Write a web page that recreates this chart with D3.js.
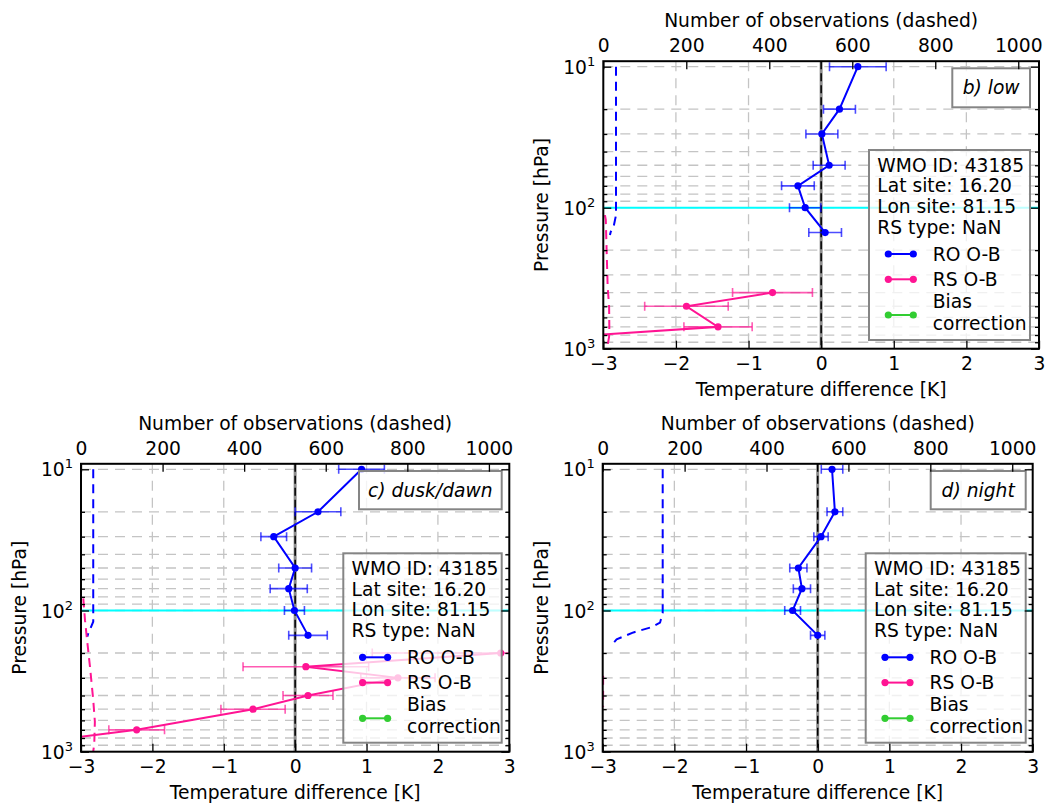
<!DOCTYPE html>
<html><head><meta charset="utf-8">
<script src="https://cdn.jsdelivr.net/npm/d3@7"></script>
<style>body{margin:0;background:#fff}svg{display:block;font-family:"DejaVu Sans",sans-serif}</style>
</head><body><svg id="chart" width="1048" height="806"></svg>
<script>
// ---------------- data ----------------
const roLevels = [10, 20, 30, 50, 70, 100, 150];
const roLow = [0.505, 0.252, 0.01, 0.11, -0.32, -0.22, 0.055];
const roLowErr = [0.39, 0.22, 0.22, 0.22, 0.225, 0.216, 0.225];
const roDusk = [0.93, 0.32, -0.30, 0.0, -0.09, -0.01, 0.18];
const roDuskErr = [0.32, 0.32, 0.18, 0.23, 0.26, 0.14, 0.27];
const roNight = [0.20, 0.24, 0.046, -0.27, -0.22, -0.35, 0.0];
const roNightErr = [0.15, 0.11, 0.10, 0.12, 0.12, 0.11, 0.10];

const rsLowLevels = [400, 500, 700, 850];
const rsLow = [-0.67, -1.855, -1.42, -3.85];
const rsLowErr = [0.55, 0.575, 0.47, 0.5];
const rsDuskLevels = [200, 250, 300, 400, 500, 700, 850];
const rsDusk = [2.88, 0.15, 1.44, 0.18, -0.59, -2.22, -3.58];
const rsDuskErr = [1.8, 0.88, 0.52, 0.35, 0.45, 0.39, 0.4];
const rsNightLevels = [];
const rsNight = [];
const rsNightErr = [];

// number of observations (dashed profiles)
const roCountLowP = [10, 113, 140, 148, 156];
const roCountLow = [30.6, 30.6, 24, 18, 16];
const rsCountLowP = [113, 122, 200, 363, 502, 700, 820, 960, 1000];
const rsCountLow = [4, 6, 8, 10.5, 14, 14.5, 14, 10, 8];
const roCountDuskP = [10, 120, 145, 153];
const roCountDusk = [30, 30, 18, 15.4];
const rsCountDuskP = [82, 117, 153, 250, 430, 613, 871, 1000];
const rsCountDusk = [5.6, 9.8, 14, 22, 30, 34, 32.6, 30];
const roCountNightP = [10, 104, 122, 131, 143, 160, 170, 175];
const roCountNight = [146.5, 146.5, 140, 120, 75, 34, 26, 26];
const rsCountNightP = [290, 480];
const rsCountNight = [1, 1];

// axes / ticks / text
const tempTicks = [-3, -2, -1, 0, 1, 2, 3];
const tempGrid = [-2, -1, 1, 2];
const countTicks = [0, 200, 400, 600, 800, 1000];
const pressureMajor = [10, 100, 1000];
const tropopauseLevel = [100];
const stationInfo = ["WMO ID: 43185", "Lat site: 16.20", "Lon site: 81.15", "RS type: NaN"];
const legendLabels = [["RO O-B"], ["RS O-B"], ["Bias", "correction"]];
const panelTitles = ["b) low", "c) dusk/dawn", "d) night"];

// ---------------- styling / layout ----------------
const COL = {ro: "#0000ff", rs: "#ff1493", bias: "#32cd32", cyan: "#00ffff"};
const FS = 18.7;
const svg = d3.select("#chart");

const panels = [
  {title: panelTitles[0], L: 603.3, R: 1039, y10: 66.7, B: 348.7,
   tb: [952.3, 68.3, 1030, 107.3], lb: [869, 150, 1030, 340],
   ro: roLow, roE: roLowErr, rsP: rsLowLevels, rs: rsLow, rsE: rsLowErr,
   roC: [roCountLowP, roCountLow], rsC: [rsCountLowP, rsCountLow]},
  {title: panelTitles[1], L: 81, R: 509.3, y10: 469.3, B: 751.7,
   tb: [359, 471, 501.7, 509.3], lb: [343.3, 553.3, 501.7, 742.7],
   ro: roDusk, roE: roDuskErr, rsP: rsDuskLevels, rs: rsDusk, rsE: rsDuskErr,
   roC: [roCountDuskP, roCountDusk], rsC: [rsCountDuskP, rsCountDusk]},
  {title: panelTitles[2], L: 602.7, R: 1032.7, y10: 469.3, B: 751.7,
   tb: [930.7, 471, 1025.7, 509.3], lb: [865.7, 553.3, 1025.7, 742.7],
   ro: roNight, roE: roNightErr, rsP: rsNightLevels, rs: rsNight, rsE: rsNightErr,
   roC: [roCountNightP, roCountNight], rsC: [rsCountNightP, rsCountNight]}
];

panels.forEach((P, i) => {
  const T = P.y10 - 5.5;
  const x = d3.scaleLinear().domain([-3, 3]).range([P.L, P.R]);
  const xc = d3.scaleLinear().domain([0, 1050]).range([P.L, P.R]);
  const y = d3.scaleLog().domain([10, 1000]).range([P.y10, P.B]);
  const g = svg.append("g");
  const cid = "clip" + i;
  g.append("clipPath").attr("id", cid).append("rect")
    .attr("x", P.L).attr("y", T).attr("width", P.R - P.L).attr("height", P.B - T);
  const pg = g.append("g").attr("clip-path", `url(#${cid})`);

  const logLevels = [];
  [10, 100].forEach(d => { for (let k = 1; k <= 9; k++) logLevels.push(d * k); });
  const minorLevels = logLevels.filter(v => !pressureMajor.includes(v));

  pg.selectAll(".hg").data(logLevels).join("line")
    .attr("x1", P.L).attr("x2", P.R).attr("y1", d => y(d)).attr("y2", d => y(d))
    .attr("stroke", "#c4c4c4").attr("stroke-width", 1.3).attr("stroke-dasharray", "10,7");
  pg.selectAll(".vg").data(tempGrid).join("line")
    .attr("x1", d => x(d)).attr("x2", d => x(d)).attr("y1", T).attr("y2", P.B)
    .attr("stroke", "#c4c4c4").attr("stroke-width", 1.3).attr("stroke-dasharray", "10,7");

  pg.selectAll(".trop").data(tropopauseLevel).join("line")
    .attr("x1", P.L).attr("x2", P.R).attr("y1", d => y(d)).attr("y2", d => y(d))
    .attr("stroke", COL.cyan).attr("stroke-width", 2);
  pg.append("line").attr("x1", x(0)).attr("x2", x(0)).attr("y1", T).attr("y2", P.B)
    .attr("stroke", "#8c8c8c").attr("stroke-width", 3);
  pg.append("line").attr("x1", x(0)).attr("x2", x(0)).attr("y1", T).attr("y2", P.B)
    .attr("stroke", "#000").attr("stroke-width", 1.5).attr("stroke-dasharray", "8,4");

  const cline = d3.line().x(d => xc(d[1])).y(d => y(d[0]));
  [[P.roC, COL.ro], [P.rsC, COL.rs]].forEach(([c, col]) => {
    const pts = c[0].map((p, k) => [p, c[1][k]]);
    pg.append("path").attr("d", cline(pts)).attr("fill", "none")
      .attr("stroke", col).attr("stroke-width", 2).attr("stroke-dasharray", "9,6");
  });

  const series = [
    {p: roLevels, v: P.ro, e: P.roE, col: COL.ro},
    {p: P.rsP, v: P.rs, e: P.rsE, col: COL.rs}
  ];
  series.forEach(s => {
    const pts = s.p.map((p, k) => ({p, v: s.v[k], e: s.e[k]}));
    const eb = pg.append("g").attr("stroke", s.col).attr("stroke-opacity", 0.7).attr("stroke-width", 1.6);
    eb.selectAll(".bar").data(pts).join("line")
      .attr("x1", d => x(d.v - d.e)).attr("x2", d => x(d.v + d.e))
      .attr("y1", d => y(d.p)).attr("y2", d => y(d.p));
    eb.selectAll(".capl").data(pts).join("line")
      .attr("x1", d => x(d.v - d.e)).attr("x2", d => x(d.v - d.e))
      .attr("y1", d => y(d.p) - 4.5).attr("y2", d => y(d.p) + 4.5);
    eb.selectAll(".capr").data(pts).join("line")
      .attr("x1", d => x(d.v + d.e)).attr("x2", d => x(d.v + d.e))
      .attr("y1", d => y(d.p) - 4.5).attr("y2", d => y(d.p) + 4.5);
    if (pts.length) {
      pg.append("path").attr("d", d3.line().x(d => x(d.v)).y(d => y(d.p))(pts))
        .attr("fill", "none").attr("stroke", s.col).attr("stroke-width", 2);
      pg.selectAll(".pt").data(pts).join("circle")
        .attr("cx", d => x(d.v)).attr("cy", d => y(d.p)).attr("r", 3.6).attr("fill", s.col);
    }
  });

  // title box
  const [tx0, ty0, tx1, ty1] = P.tb;
  g.append("rect").attr("x", tx0).attr("y", ty0).attr("width", tx1 - tx0).attr("height", ty1 - ty0)
    .attr("fill", "#fff").attr("fill-opacity", 0.8).attr("stroke", "#858585").attr("stroke-width", 2);
  g.append("text").attr("x", (tx0 + tx1) / 2).attr("y", (ty0 + ty1) / 2 + 6.5)
    .attr("text-anchor", "middle").attr("font-size", FS).attr("font-style", "italic").text(P.title);

  // legend box
  const [lx0, ly0, lx1, ly1] = P.lb;
  g.append("rect").attr("x", lx0).attr("y", ly0).attr("width", lx1 - lx0).attr("height", ly1 - ly0)
    .attr("fill", "#fff").attr("fill-opacity", 0.75).attr("stroke", "#858585").attr("stroke-width", 2);
  const info = g.append("text").attr("font-size", FS);
  stationInfo.forEach((t, k) => {
    info.append("tspan").attr("x", lx0 + 8.3).attr("y", ly0 + 21.7 + k * 20.6).text(t);
  });
  const legCols = [COL.ro, COL.rs, COL.bias];
  const legY = [104, 129.3, 165];
  legendLabels.forEach((lab, k) => {
    const ly = ly0 + legY[k];
    g.append("line").attr("x1", lx0 + 19.3).attr("x2", lx0 + 44.3).attr("y1", ly).attr("y2", ly)
      .attr("stroke", legCols[k]).attr("stroke-width", 2);
    [lx0 + 19.3, lx0 + 44.3].forEach(cx => g.append("circle").attr("cx", cx).attr("cy", ly)
      .attr("r", 3.6).attr("fill", legCols[k]));
    const lt = g.append("text").attr("font-size", FS);
    lab.forEach((t, j) => {
      const base = lab.length === 1 ? ly + 6.5 : ly - 7 + j * 21.8;
      lt.append("tspan").attr("x", lx0 + 63.7).attr("y", base).text(t);
    });
  });

  // frame
  g.append("rect").attr("x", P.L).attr("y", T).attr("width", P.R - P.L).attr("height", P.B - T)
    .attr("fill", "none").attr("stroke", "#000").attr("stroke-width", 2);

  const styleAxis = sel => {
    sel.attr("font-family", null).attr("font-size", null);
    sel.select(".domain").remove();
    sel.selectAll("line").attr("stroke", "#000").attr("stroke-width", 1.3);
    sel.selectAll("text").attr("font-size", FS).attr("fill", "#000");
  };
  g.append("g").attr("transform", `translate(0,${P.B})`)
    .call(d3.axisBottom(x).tickValues(tempTicks).tickFormat(d3.format("d")).tickSize(-8).tickPadding(8.2))
    .call(styleAxis);
  g.append("g").attr("transform", `translate(0,${T})`)
    .call(d3.axisTop(xc).tickValues(countTicks).tickFormat(d3.format("d")).tickSize(-8).tickPadding(9.3))
    .call(styleAxis);
  [[d3.axisLeft, P.L], [d3.axisRight, P.R]].forEach(([ax, pos]) => {
    g.append("g").attr("transform", `translate(${pos},0)`)
      .call(ax(y).tickValues(pressureMajor).tickFormat("").tickSize(-8)).call(styleAxis);
    g.append("g").attr("transform", `translate(${pos},0)`)
      .call(ax(y).tickValues(minorLevels).tickFormat("").tickSize(-4)).call(styleAxis);
  });
  pressureMajor.forEach(p => {
    const t = g.append("text").attr("x", P.L - 8).attr("y", y(p) + 7).attr("text-anchor", "end")
      .attr("font-size", FS);
    t.append("tspan").text("10");
    t.append("tspan").attr("dy", -8).attr("font-size", 13).text(String(Math.round(Math.log10(p))));
  });

  g.append("text").attr("x", (P.L + P.R) / 2).attr("y", T - 34).attr("text-anchor", "middle")
    .attr("font-size", FS).text("Number of observations (dashed)");
  g.append("text").attr("x", (P.L + P.R) / 2).attr("y", P.B + 47).attr("text-anchor", "middle")
    .attr("font-size", FS).text("Temperature difference [K]");
  g.append("text").attr("transform", `translate(${P.L - 55},${(T + P.B) / 2}) rotate(-90)`)
    .attr("text-anchor", "middle").attr("font-size", FS).text("Pressure [hPa]");
});
</script></body></html>
